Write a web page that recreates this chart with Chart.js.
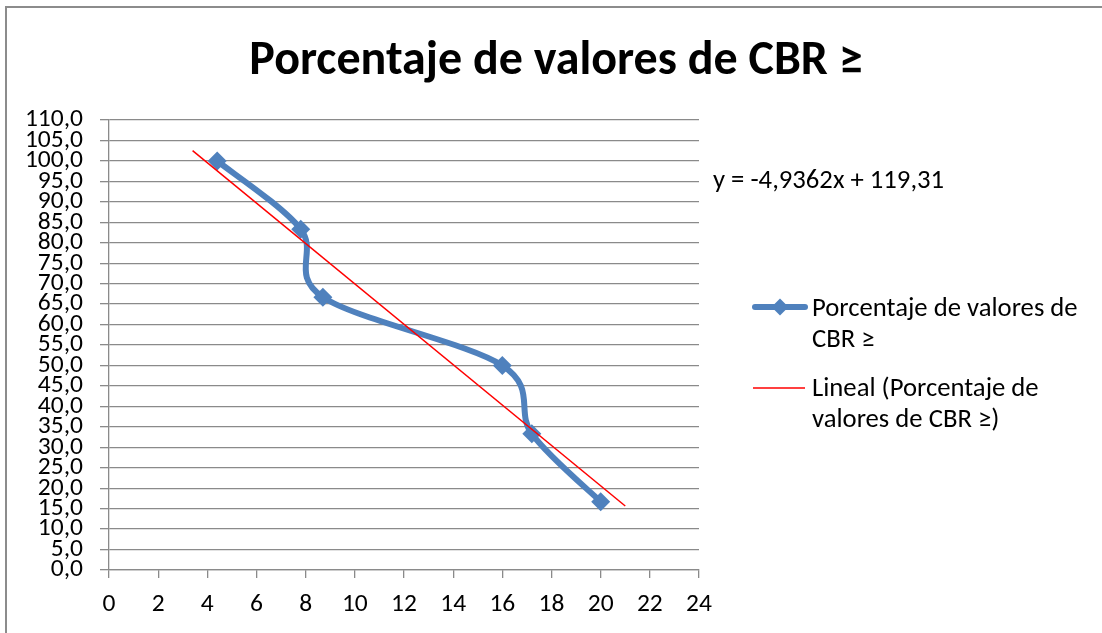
<!DOCTYPE html>
<html>
<head>
<meta charset="utf-8">
<script src="https://cdn.jsdelivr.net/npm/chart.js@4.4.1/dist/chart.umd.min.js"></script>
<style>
html,body{margin:0;padding:0;background:#fff;}
#wrap{width:1102px;height:633px;position:relative;}
</style>
</head>
<body>
<div id="wrap"><canvas id="c" width="1102" height="633"></canvas></div>
<script>
// ---- data ----
const titleText = 'Porcentaje de valores de CBR \u2265';
const cbrValues = [4.4, 7.8, 8.7, 16.0, 17.2, 20.0];
const percentValues = [100.0, 83.3, 66.7, 50.0, 33.3, 16.7];
const trendX = [3.4, 21.0];
const trendY = [102.53, 15.65];
const equationText = 'y = -4,9362x + 119,31';
const seriesName = ['Porcentaje de valores de', 'CBR \u2265'];
const trendName = ['Lineal (Porcentaje de', 'valores de CBR \u2265)'];

const FONT = "Carlito, Lato, 'Open Sans', sans-serif";
const BLUE = '#4F81BD';
const GRID = '#8a8a8a';

const seriesPts = cbrValues.map((x, i) => ({x, y: percentValues[i]}));
const trendPts = trendX.map((x, i) => ({x, y: trendY[i]}));

// Excel-style smoothing (Catmull-Rom, 1/6 factor) applied to the library's point elements
const excelSmooth = {
  id: 'excelSmooth',
  beforeDatasetsDraw(chart) {
    const meta = chart.getDatasetMeta(1);
    const line = meta.dataset;
    line.updateControlPoints(chart.chartArea, 'x');
    const pts = meta.data;
    const n = pts.length;
    for (let i = 0; i < n; i++) {
      const p = pts[i];
      const prev = pts[Math.max(0, i - 1)];
      const next = pts[Math.min(n - 1, i + 1)];
      const dx = (next.x - prev.x) / 6, dy = (next.y - prev.y) / 6;
      p.cp1x = p.x - dx; p.cp1y = p.y - dy;
      p.cp2x = p.x + dx; p.cp2y = p.y + dy;
    }
    line._path = undefined;
  }
};

const decor = {
  id: 'decor',
  beforeDraw(chart) {
    const ctx = chart.ctx;
    ctx.save();
    ctx.fillStyle = '#fff';
    ctx.fillRect(0, 0, chart.width, chart.height);
    ctx.strokeStyle = '#8c8c8c';
    ctx.lineWidth = 2;
    ctx.beginPath();
    ctx.moveTo(6, 633); ctx.lineTo(6, 7); ctx.lineTo(1102, 7);
    ctx.stroke();
    ctx.restore();
  },
  afterDraw(chart) {
    const ctx = chart.ctx;
    ctx.save();
    ctx.fillStyle = '#000';
    ctx.textBaseline = 'alphabetic';
    // title
    ctx.font = 'bold 48px ' + FONT;
    ctx.textAlign = 'center';
    ctx.fillText(titleText, 556, 74);
    // equation
    ctx.textAlign = 'left';
    ctx.font = '26.7px ' + FONT;
    ctx.fillText(equationText, 713, 188);
    // legend entry 1
    ctx.strokeStyle = BLUE;
    ctx.lineWidth = 6;
    ctx.lineCap = 'round';
    ctx.beginPath(); ctx.moveTo(755, 307); ctx.lineTo(805, 307); ctx.stroke();
    ctx.fillStyle = BLUE;
    ctx.beginPath();
    ctx.moveTo(780, 298.5); ctx.lineTo(788.5, 307); ctx.lineTo(780, 315.5); ctx.lineTo(771.5, 307);
    ctx.closePath(); ctx.fill();
    ctx.fillStyle = '#000';
    ctx.fillText(seriesName[0], 812, 316);
    ctx.fillText(seriesName[1], 812, 347);
    // legend entry 2
    ctx.strokeStyle = '#FF0000';
    ctx.lineWidth = 1.5;
    ctx.lineCap = 'butt';
    ctx.beginPath(); ctx.moveTo(753, 388); ctx.lineTo(805, 388); ctx.stroke();
    ctx.fillText(trendName[0], 812, 396);
    ctx.fillText(trendName[1], 812, 427);
    ctx.restore();
  }
};

new Chart(document.getElementById('c'), {
  type: 'scatter',
  data: {
    datasets: [
      {
        label: trendName.join(' '),
        data: trendPts,
        showLine: true,
        borderColor: '#FF0000',
        borderWidth: 1.5,
        pointRadius: 0,
        pointHoverRadius: 0,
        tension: 0
      },
      {
        label: seriesName.join(' '),
        data: seriesPts,
        showLine: true,
        borderColor: BLUE,
        backgroundColor: BLUE,
        borderWidth: 6,
        tension: 0.4,
        pointStyle: 'rectRot',
        pointRadius: 9.5,
        pointBorderWidth: 0,
        pointBackgroundColor: BLUE,
        pointBorderColor: BLUE
      }
    ]
  },
  options: {
    responsive: false,
    animation: false,
    layout: { padding: { left: 0, top: 120, right: 403, bottom: 0 } },
    plugins: {
      legend: { display: false },
      title: { display: false },
      tooltip: { enabled: false }
    },
    scales: {
      x: {
        type: 'linear',
        min: 0, max: 24,
        ticks: { stepSize: 2, autoSkip: false, maxRotation: 0, padding: 11, color: '#000', font: { family: FONT, size: 25.5 } },
        grid: { drawOnChartArea: false, drawTicks: true, tickLength: 8, color: GRID, lineWidth: 1.3 },
        border: { display: true, color: GRID, width: 1.3 },
        afterFit(s) { s.height = 63; }
      },
      y: {
        type: 'linear',
        min: 0, max: 110,
        ticks: {
          stepSize: 5, autoSkip: false, padding: 17, color: '#000',
          font: { family: FONT, size: 25.5 },
          callback: v => v.toFixed(1).replace('.', ',')
        },
        grid: { drawOnChartArea: true, drawTicks: true, tickLength: 9, color: GRID, lineWidth: 1.3 },
        border: { display: true, color: GRID, width: 1.3 },
        afterFit(s) { s.width = 109; }
      }
    }
  },
  plugins: [excelSmooth, decor]
});
</script>
</body>
</html>
